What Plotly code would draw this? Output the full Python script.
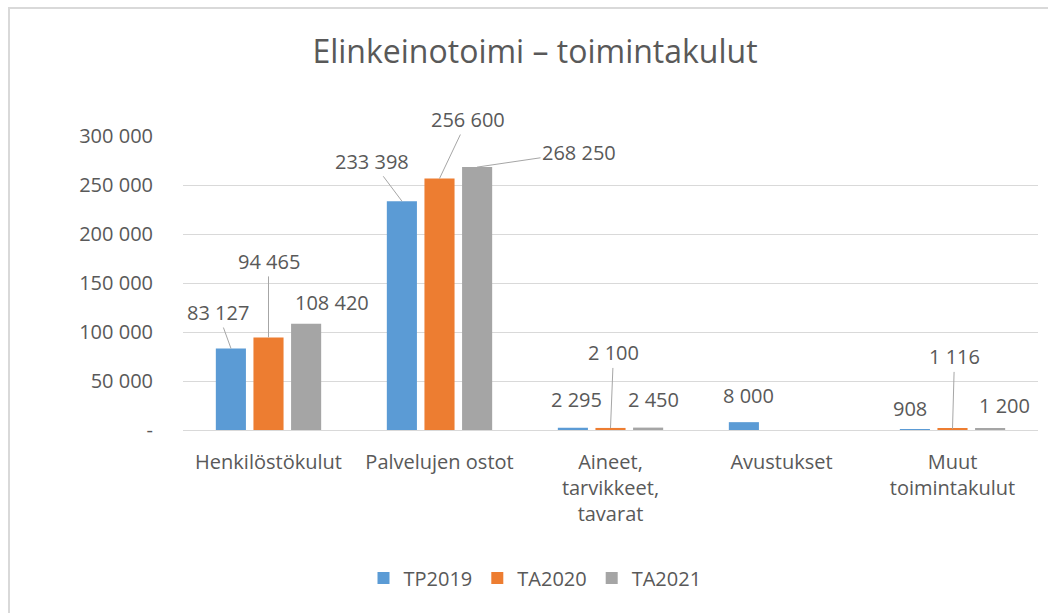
import plotly.graph_objects as go

categories = ["Henkilöstökulut", "Palvelujen ostot", "Aineet,<br>tarvikkeet,<br>tavarat",
              "Avustukset", "Muut<br>toimintakulut"]
series_names = ["TP2019", "TA2020", "TA2021"]
tp2019 = [83127, 233398, 2295, 8000, 908]
ta2020 = [94465, 256600, 2100, None, 1116]
ta2021 = [108420, 268250, 2450, None, 1200]
colors = ["#5B9BD5", "#ED7D31", "#A5A5A5"]
y_tickvals = [0, 50000, 100000, 150000, 200000, 250000, 300000]

def fmt(v):
    if v == 0:
        return "-"
    return f"{v:,}".replace(",", " ")

y_ticktext = [fmt(v) for v in y_tickvals]

series = [tp2019, ta2020, ta2021]

# label placement styles (pixel offsets): (arrow?, dx, dy)
label_style = [
    [(True, -13, -36), (True, -30, -40), (False, 3, 28), (False, 4, 27), (False, -5, 21)],
    [(True, 0, -76), (True, 28, -59), (True, 3, -75), None, (True, 2, -72)],
    [(False, 26, 21), (True, 102, -15), (False, 5, 28), None, (False, 14, 23)],
]
slot_px = 37.5
font_family = "Open Sans, Liberation Sans, sans-serif"
text_color = "#595959"

fig = go.Figure()
for name, vals, col in zip(series_names, series, colors):
    fig.add_trace(go.Bar(name=name, x=categories, y=vals, marker_color=col,
                         marker_line_width=0))

annotations = []
for si, vals in enumerate(series):
    xs = (si - 1) * slot_px
    for ci, v in enumerate(vals):
        if v is None:
            continue
        arrow, dx, dy = label_style[si][ci]
        if arrow:
            annotations.append(dict(x=categories[ci], y=v, xshift=xs, text=fmt(v),
                                    showarrow=True, arrowhead=0, arrowwidth=1,
                                    arrowcolor="#a6a6a6", ax=dx, ay=dy, standoff=0,
                                    font=dict(size=20, color=text_color, family=font_family)))
        else:
            annotations.append(dict(x=categories[ci], y=v, xshift=xs + dx, yshift=dy,
                                    text=fmt(v), showarrow=False,
                                    font=dict(size=20, color=text_color, family=font_family)))

fig.update_layout(
    width=1048, height=613,
    margin=dict(l=183, r=10, t=136, b=183),
    paper_bgcolor="white", plot_bgcolor="white",
    font=dict(family=font_family, size=20, color=text_color),
    title=dict(text="Elinkeinotoimi – toimintakulut", x=535/1048, xref="container",
               xanchor="center", y=1-52/613, yref="container", yanchor="middle",
               font=dict(size=32, color=text_color, family=font_family)),
    barmode="group", bargap=0.34, bargroupgap=0.2,
    showlegend=True,
    legend=dict(orientation="h", xref="container", yref="container",
                x=535/1048, xanchor="center", y=1-578/613, yanchor="middle",
                font=dict(size=20, color=text_color), itemsizing="constant",
                traceorder="normal"),
    annotations=annotations,
)
fig.update_xaxes(showgrid=False, showline=False, ticks="", ticklabelstandoff=18,
                 tickfont=dict(size=20, color=text_color))
fig.update_yaxes(range=[0, 300000], tickvals=y_tickvals, ticktext=y_ticktext,
                 showgrid=True, gridcolor="#d9d9d9", gridwidth=1,
                 zeroline=True, zerolinecolor="#d9d9d9", zerolinewidth=1,
                 showline=False, ticks="", ticklabelstandoff=29,
                 tickfont=dict(size=20, color=text_color))
# chart border
fig.add_shape(type="rect", xref="paper", yref="paper",
              x0=(9-183)/855, x1=(1070-183)/855, y0=(430-640)/294, y1=(430-8)/294,
              line=dict(color="#d9d9d9", width=2), fillcolor="rgba(0,0,0,0)", layer="below")

fig.write_html("out.html", config={"displayModeBar": False},
               post_script="document.body.style.margin='0';")
